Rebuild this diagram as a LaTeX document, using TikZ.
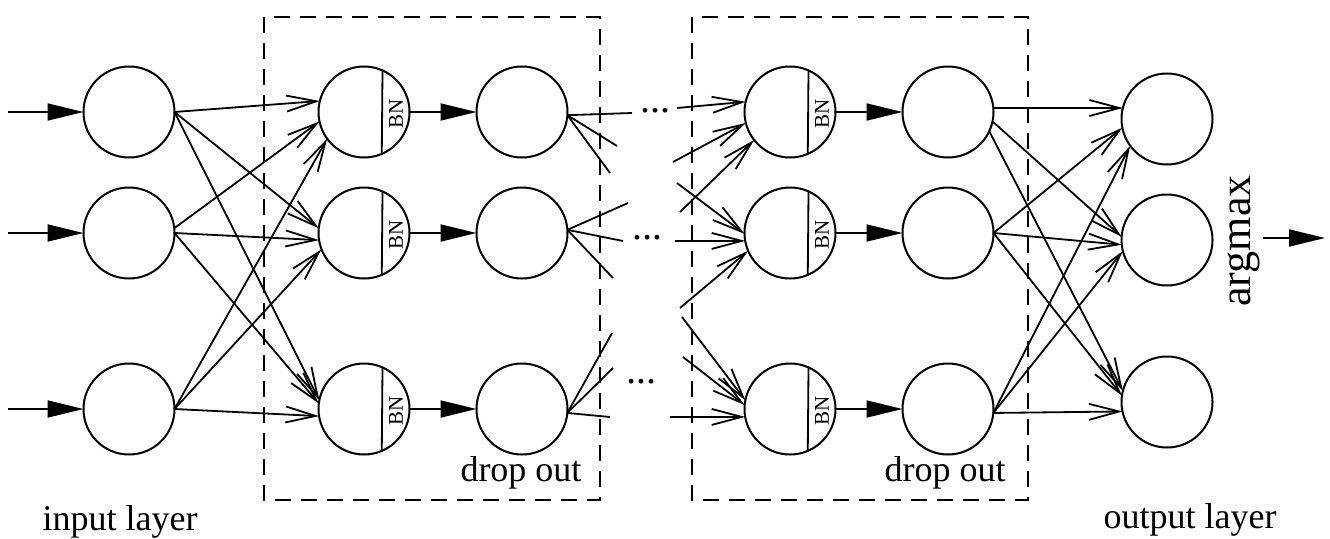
\documentclass[tikz,border=0pt]{standalone}
\usepackage{fontspec}
\setmainfont{Liberation Serif}
\usetikzlibrary{arrows.meta,calc}
\begin{document}
\begin{tikzpicture}[x=1pt,y=-1pt,
  neuron/.style={circle,draw,line width=2pt,minimum size=91pt,inner sep=0pt,outer sep=0pt},
  conn/.style={line width=1.8pt,-{Straight Barb[length=30pt,width=16pt]}},
  stub/.style={line width=1.8pt},
  fwd/.style={line width=1.8pt,-{Triangle[length=36pt,width=17pt]}},
  dropbox/.style={line width=1.8pt,dash pattern=on 16pt off 10pt},
  bnline/.style={line width=1.8pt},
  bnlab/.style={rotate=90,font=\fontsize{21}{24}\selectfont,inner sep=0pt},
  lab/.style={font=\fontsize{36}{40}\selectfont,inner sep=0pt,anchor=base},
  dotslab/.style={font=\fontsize{40}{44}\selectfont,inner sep=0pt}
]
\useasboundingbox (0,0) rectangle (1330,538);

% dashed boxes
\draw[dropbox] (264,17) rectangle (600,500);
\draw[dropbox] (692,17) rectangle (1028,500);

% neurons
\node[neuron] (i1) at (129,112) {};
\node[neuron] (i2) at (129,233) {};
\node[neuron] (i3) at (129,409) {};
\node[neuron] (b1) at (364,112) {};
\node[neuron] (b2) at (364,233) {};
\node[neuron] (b3) at (364,409) {};
\node[neuron] (h1) at (522,112) {};
\node[neuron] (h2) at (522,233) {};
\node[neuron] (h3) at (522,409) {};
\node[neuron] (c1) at (790,112) {};
\node[neuron] (c2) at (790,233) {};
\node[neuron] (c3) at (790,409) {};
\node[neuron] (d1) at (948,112) {};
\node[neuron] (d2) at (948,233) {};
\node[neuron] (d3) at (948,409) {};
\node[neuron] (o1) at (1167,119) {};
\node[neuron] (o2) at (1167,240) {};
\node[neuron] (o3) at (1167,402) {};

% BN parts
\foreach \n in {b1,b2,b3,c1,c2,c3}{
  \draw[bnline] (\n.66.7) -- (\n.293.3);
  \node[bnlab] at ($(\n.center)+(32,2)$) {BN};
}

% input arrows
\coordinate (x1) at (8,112);
\coordinate (x2) at (8,233);
\coordinate (x3) at (8,409);
\draw[fwd] (x1) -- (i1.west);
\draw[fwd] (x2) -- (i2.west);
\draw[fwd] (x3) -- (i3.west);

% input -> BN layer
\draw[conn] (i1.east) -- (b1.166);
\draw[conn] (i1.east) -- (b2.174);
\draw[conn] (i1.east) -- (b3.169);
\draw[conn] (i2.6) -- (b1.192);
\draw[conn] (i2.east) -- (b2.189);
\draw[conn] (i2.east) -- (b3.173);
\draw[conn] (i3.east) -- (b1.216);
\draw[conn] (i3.east) -- (b2.201);
\draw[conn] (i3.east) -- (b3.189);

% BN -> hidden
\draw[fwd] (b1.east) -- (h1.west);
\draw[fwd] (b2.east) -- (h2.west);
\draw[fwd] (b3.east) -- (h3.west);
\draw[fwd] (c1.east) -- (d1.west);
\draw[fwd] (c2.east) -- (d2.west);
\draw[fwd] (c3.east) -- (d3.west);

% stubs out of first block
\coordinate (p1a) at (632,113);
\coordinate (p1b) at (617,146);
\coordinate (p1c) at (610,173);
\coordinate (p2a) at (628,203);
\coordinate (p2b) at (623,241);
\coordinate (p2c) at (613,278);
\coordinate (p3a) at (612,333);
\coordinate (p3b) at (613,368);
\coordinate (p3c) at (610,417);
\draw[stub] (h1.356) -- (p1a);
\draw[stub] (h1.356) -- (p1b);
\draw[stub] (h1.356) -- (p1c);
\draw[stub] (h2.4) -- (p2a);
\draw[stub] (h2.4) -- (p2b);
\draw[stub] (h2.4) -- (p2c);
\draw[stub] (h3.355) -- (p3a);
\draw[stub] (h3.355) -- (p3b);
\draw[stub] (h3.355) -- (p3c);

% dots
\node[dotslab] (dt1) at (655,111) {...};
\node[dotslab] (dt2) at (647,238) {...};
\node[dotslab] (dt3) at (641,382) {...};

% stubs into second block
\coordinate (q1a) at (677,108);
\coordinate (q1b) at (673,162);
\coordinate (q1c) at (680,212);
\coordinate (q2a) at (677,183);
\coordinate (q2b) at (675,241);
\coordinate (q2c) at (680,308);
\coordinate (q3a) at (682,317);
\coordinate (q3b) at (683,357);
\coordinate (q3c) at (670,417);
\draw[conn] (q1a) -- (c1.167);
\draw[conn] (q1b) -- (c1.194);
\draw[conn] (q1c) -- (c1.218);
\draw[conn] (q2a) -- (c2.181);
\draw[conn] (q2b) -- (c2.190);
\draw[conn] (q2c) -- (c2.203);
\draw[conn] (q3a) -- (c3.169);
\draw[conn] (q3b) -- (c3.175);
\draw[conn] (q3c) -- (c3.190);

% hidden -> output
\draw[conn] (d1.5) -- (o1.166);
\draw[conn] (d1.348) -- (o2.176);
\draw[conn] (d1.335) -- (o3.166);
\draw[conn] (d2.east) -- (o1.191);
\draw[conn] (d2.east) -- (o2.186);
\draw[conn] (d2.east) -- (o3.172);
\draw[conn] (d3.355) -- (o1.216);
\draw[conn] (d3.355) -- (o2.194);
\draw[conn] (d3.355) -- (o3.192);

% argmax
\node[rotate=90,font=\fontsize{44}{48}\selectfont,inner sep=0pt] (am) at (1244,241) {argmax};
\coordinate (y0) at (1263,238);
\coordinate (y1) at (1325,238);
\draw[fwd] (y0) -- (y1);

% labels
\node[lab] (dl1) at (521,481) {drop out};
\node[lab] (dl2) at (945,481) {drop out};
\node[lab] (il) at (120,530) {input layer};
\node[lab] (ol) at (1190,528) {output layer};
\end{tikzpicture}
\end{document}
